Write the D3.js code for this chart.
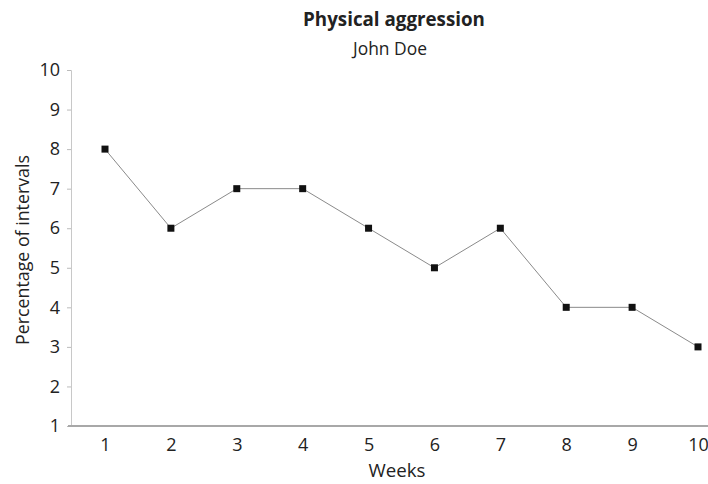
<!DOCTYPE html>
<html><head><meta charset="utf-8">
<script src="https://cdn.jsdelivr.net/npm/d3@7"></script>
<style>body{margin:0;background:#fff}text{font-family:"Open Sans",sans-serif;fill:#222}</style>
</head><body><svg id="c" width="708" height="484"></svg>
<script>
const weeks = [1,2,3,4,5,6,7,8,9,10];
const percentages = [8,6,7,7,6,5,6,4,4,3];
const yTicks = [1,2,3,4,5,6,7,8,9,10];
const title = "Physical aggression";
const subtitle = "John Doe";
const xLabel = "Weeks";
const yLabel = "Percentage of intervals";

const svg = d3.select("#c");
const x = d3.scaleLinear().domain([1,10]).range([105,698]);
const y = d3.scaleLinear().domain([1,10]).range([426,70]);

function fit(sel, w){
  const n = sel.node();
  const fs = parseFloat(sel.style("font-size"));
  const len = n.getComputedTextLength();
  if (len > 0) sel.style("font-size", (fs*w/len).toFixed(2)+"px");
  return sel;
}

fit(svg.append("text").attr("x",394).attr("y",26).attr("text-anchor","middle")
  .style("font-weight","bold").style("font-size","18px").text(title), 182);
fit(svg.append("text").attr("x",390).attr("y",55).attr("text-anchor","middle")
  .style("font-size","17px").text(subtitle), 74);

// y axis
const ya = svg.append("g").attr("transform","translate(71,0)")
  .call(d3.axisLeft(y).tickValues(yTicks).tickSize(4).tickPadding(7).tickFormat(d3.format("d")));
ya.select(".domain").attr("stroke","#c8c8c8");
ya.selectAll(".tick line").attr("stroke","#bbb");
ya.selectAll(".tick text").style("font-size","18px").attr("fill","#222");

// x axis
const xa = svg.append("g").attr("transform","translate(0,426)")
  .call(d3.axisBottom(x).tickValues(weeks).tickSize(0).tickPadding(12).tickFormat(d3.format("d")));
xa.select(".domain").remove();
xa.selectAll(".tick text").style("font-size","18px").attr("fill","#222");
svg.append("line").attr("x1",68).attr("x2",708).attr("y1",426).attr("y2",426)
  .attr("stroke","#a8a8a8").attr("stroke-width",2);

fit(svg.append("text").attr("x",397).attr("y",477).attr("text-anchor","middle")
  .style("font-size","18px").text(xLabel), 57);
fit(svg.append("text").attr("transform","translate(29,250) rotate(-90)").attr("text-anchor","middle")
  .style("font-size","17px").text(yLabel), 190);

const data = weeks.map((w,i)=>({w, v: percentages[i]}));
svg.append("path").datum(data)
  .attr("fill","none").attr("stroke","#8a8a8a").attr("stroke-width",1)
  .attr("d", d3.line().x(d=>x(d.w)).y(d=>y(d.v)));
svg.selectAll("rect.pt").data(data).join("rect").attr("class","pt")
  .attr("x",d=>x(d.w)-3.5).attr("y",d=>y(d.v)-3.5).attr("width",7).attr("height",7)
  .attr("fill","#111");
</script></body></html>
